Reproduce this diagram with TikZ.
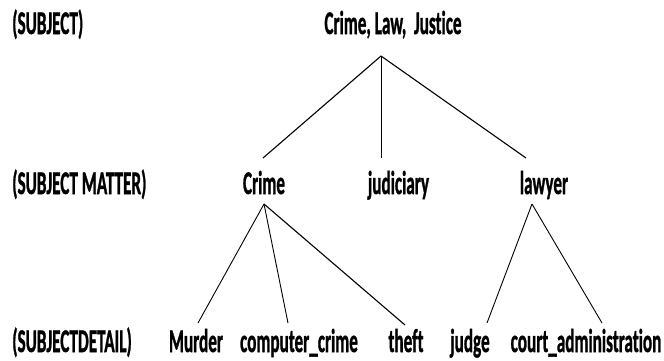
\documentclass[tikz,border=0pt]{standalone}
\usepackage{fontspec}
\usepackage{graphicx}
\setmainfont{Carlito}[Ligatures=NoCommon,BoldFeatures={FakeBold=1.5}]
\newcommand{\lbl}[1]{\scalebox{0.52}[1]{\fontsize{33}{40}\selectfont\bfseries #1}}
\begin{document}
\begin{tikzpicture}[x=1pt,y=-1pt,
  txt/.style={inner sep=0pt,anchor=base},
  lefttxt/.style={inner sep=0pt,anchor=base west},
  edge/.style={line width=1.1pt,black}]
\useasboundingbox (0,0) rectangle (664,360);
% level labels
\node[lefttxt] (l1) at (12,34) {\lbl{(SUBJECT)}};
\node[lefttxt] (l2) at (12,194) {\lbl{(SUBJECT MATTER)}};
\node[lefttxt] (l3) at (12,352) {\lbl{(SUBJECTDETAIL)}};
% nodes
\node[txt] (root) at (393,34) {\lbl{Crime, Law,\ \ Justice}};
\node[txt] (crime) at (264,194) {\lbl{Crime}};
\node[txt] (jud) at (398.5,194) {\lbl{judiciary}};
\node[txt] (lawyer) at (544,194) {\lbl{lawyer}};
\node[txt] (murder) at (196,352) {\lbl{Murder}};
\node[txt] (cc) at (299,352) {\lbl{computer\_crime}};
\node[txt] (theft) at (406,352) {\lbl{theft}};
\node[txt] (judge) at (470,352) {\lbl{judge}};
\node[txt] (court) at (586,352) {\lbl{court\_administration}};
% connector ends
\coordinate (rootB) at (381,56);
\coordinate (crimeT) at (263,158);
\coordinate (judT) at (381,158);
\coordinate (lawyerT) at (526,158);
\coordinate (crimeB) at (264,204);
\coordinate (lawyerB) at (532,204);
\coordinate (murderT) at (198,323);
\coordinate (ccT) at (288,323);
\coordinate (theftT) at (405,325);
\coordinate (judgeT) at (487,323);
\coordinate (courtT) at (602,323);
% connectors
\draw[edge] (rootB) -- (crimeT);
\draw[edge,line width=0.9pt] (rootB) -- (judT);
\draw[edge] (rootB) -- (lawyerT);
\draw[edge,line width=0.9pt] (crimeB) -- (murderT);
\draw[edge,line width=0.9pt] (crimeB) -- (ccT);
\draw[edge] (crimeB) -- (theftT);
\draw[edge,line width=0.9pt] (lawyerB) -- (judgeT);
\draw[edge,line width=0.9pt] (lawyerB) -- (courtT);
\end{tikzpicture}
\end{document}
